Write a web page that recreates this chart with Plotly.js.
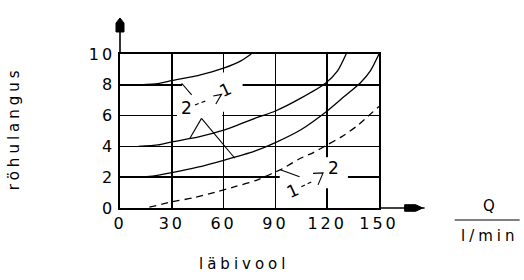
<!DOCTYPE html>
<html><head><meta charset="utf-8">
<script src="https://cdn.plot.ly/plotly-3.0.1.min.js"></script>
<style>
html,body{margin:0;padding:0;background:#fff;}
#chart{width:524px;height:280px;}
.xtick text,.ytick text{letter-spacing:3px;}
.annotation-text{letter-spacing:4px;}
</style></head><body><div id="chart"></div>
<script>
// x-axis ticks (läbivool, l/min) and y-axis ticks (röhulangus)
const xTicks = [0, 30, 60, 90, 120, 150];
const xTickText = ['0', '30', '60', '90', '120', '150'];
const yTicks = [0, 2, 4, 6, 8, 10];
const yTickText = ['0', '2', '4', '6', '8', '10'];

// upper curve (starts at 8)
const flowA = [11.6, 22, 30, 45, 60, 70, 76];
const dropA = [8.0, 8.08, 8.27, 8.6, 9.08, 9.55, 10.0];
// middle curve (starts at 4)
const flowB = [10.6, 22, 30, 45, 60, 80, 90, 105, 119, 126, 131];
const dropB = [4.0, 4.1, 4.3, 4.6, 5.05, 5.9, 6.3, 7.15, 8.1, 8.9, 10.0];
// lower curve (starts at 2)
const flowC = [4.8, 17, 30, 45, 60, 78, 90, 105, 120, 130, 139, 145, 150];
const dropC = [2.0, 2.05, 2.3, 2.65, 3.1, 3.7, 4.25, 5.1, 6.3, 7.25, 8.1, 8.9, 10.0];
// dashed curve (starts at 0)
const flowD = [17, 30, 42, 56, 67, 79, 94, 104, 112, 120, 128, 137, 150];
const dropD = [0.05, 0.4, 0.65, 1.05, 1.4, 1.8, 2.55, 3.2, 3.6, 4.1, 4.6, 5.3, 6.6];

const F = 'DejaVu Sans, Verdana, sans-serif';
const solid = {color: '#000', width: 1.3, shape: 'spline', smoothing: 0.6};

const traces = [
  {x: flowA, y: dropA, mode: 'lines', line: solid, hoverinfo: 'skip'},
  {x: flowB, y: dropB, mode: 'lines', line: solid, hoverinfo: 'skip'},
  {x: flowC, y: dropC, mode: 'lines', line: solid, hoverinfo: 'skip'},
  {x: flowD, y: dropD, mode: 'lines', line: Object.assign({}, solid, {dash: '7px,5px'}), hoverinfo: 'skip'}
];

function gap(x0, x1, y0, y1) {
  return {type: 'rect', xref: 'x', yref: 'y', x0: x0, x1: x1, y0: y0, y1: y1,
          fillcolor: '#fff', line: {width: 0}, layer: 'between'};
}
function seg(x0, y0, x1, y1, dash) {
  return {type: 'line', xref: 'x', yref: 'y', x0: x0, y0: y0, x1: x1, y1: y1,
          line: {color: '#000', width: 1.1, dash: dash || 'solid'}};
}
function poly(d, xref, yref) {
  return {type: 'path', xref: xref, yref: yref, path: d, fillcolor: '#000', line: {color: '#000', width: 1}};
}

const shapes = [
  gap(36, 71, 7.9, 8.1),
  gap(33, 59.2, 5.9, 6.1),
  gap(59.1, 60.9, 6.25, 8.8),
  gap(92.5, 132, 1.9, 2.1),
  gap(119.1, 120.9, 1.28, 3.3),
  // "2 -> 1" marks
  seg(35.7, 8.1, 41.5, 7.34),
  seg(40.5, 4.53, 47.2, 5.82),
  seg(47.2, 5.82, 66.5, 3.23),
  seg(43.4, 6.69, 50.6, 6.99, '4px,3px'),
  {type: 'path', xref: 'x', yref: 'y', path: 'M54,7.27 L58.8,7.38 L55.5,6.75', line: {color: '#000', width: 1.1}},
  // "1 -> 2" marks
  seg(92.5, 2.5, 104, 2.03),
  seg(105, 1.38, 111, 1.7, '4px,3px'),
  {type: 'path', xref: 'x', yref: 'y', path: 'M111.8,2.25 L117.6,2.28 L114.7,1.5', line: {color: '#000', width: 1.1}},
  // axis arrows
  {type: 'line', xref: 'paper', yref: 'paper', x0: 0, y0: 1, x1: 0, y1: 1.2, line: {color: '#000', width: 1.6}},
  poly('M-0.0154,1.143 L-0.0154,1.201 L0,1.234 L0.0154,1.201 L0.0154,1.143 Z', 'paper', 'paper'),
  {type: 'line', xref: 'paper', yref: 'paper', x0: 1, y0: 0, x1: 1.176, y1: 0, line: {color: '#000', width: 1.6}},
  poly('M1.099,-0.0214 L1.1416,-0.0214 L1.1685,0 L1.1416,0.0214 L1.099,0.0214 Z', 'paper', 'paper'),
  // fraction bar of Q / l/min
  {type: 'line', xref: 'paper', yref: 'paper', x0: 1.292, y0: -0.078, x1: 1.543, y1: -0.078, line: {color: '#000', width: 1}}
];

const tfont = {family: F, size: 15, color: '#000'};
const hfont = {family: F, size: 17, color: '#000'};
const annotations = [
  {xref: 'paper', yref: 'paper', x: -0.409, y: 0.519, text: 'röhulangus', textangle: -90, showarrow: false, font: tfont, xanchor: 'center', yanchor: 'middle'},
  {xref: 'paper', yref: 'paper', x: 0.478, y: -0.364, text: 'läbivool', showarrow: false, font: tfont, xanchor: 'center', yanchor: 'middle'},
  {xref: 'paper', yref: 'paper', x: 1.431, y: 0.013, text: 'Q', showarrow: false, font: tfont, xanchor: 'center', yanchor: 'middle'},
  {xref: 'paper', yref: 'paper', x: 1.427, y: -0.182, text: 'l/min', showarrow: false, font: tfont, xanchor: 'center', yanchor: 'middle'},
  {xref: 'x', yref: 'y', x: 39.5, y: 6.47, text: '2', showarrow: false, font: hfont},
  {xref: 'x', yref: 'y', x: 62.2, y: 7.71, text: '1', textangle: -25, showarrow: false, font: hfont},
  {xref: 'x', yref: 'y', x: 101, y: 1.17, text: '1', textangle: -25, showarrow: false, font: hfont},
  {xref: 'x', yref: 'y', x: 124.8, y: 2.63, text: '2', showarrow: false, font: hfont}
];

const axisCommon = {
  showgrid: true, gridcolor: '#000', gridwidth: 1.6,
  showline: true, linecolor: '#000', linewidth: 1.6, mirror: true,
  zeroline: false, ticks: '', fixedrange: true,
  tickfont: {family: F, size: 16, color: '#000'}
};

const layout = {
  width: 524, height: 280,
  margin: {l: 120, r: 145, t: 54, b: 72, pad: 0},
  paper_bgcolor: '#fff', plot_bgcolor: '#fff',
  showlegend: false,
  xaxis: Object.assign({}, axisCommon, {range: [0, 150], tickvals: xTicks, ticktext: xTickText, ticklabelstandoff: 0}),
  yaxis: Object.assign({}, axisCommon, {range: [0, 10], tickvals: yTicks, ticktext: yTickText, ticklabelstandoff: 0}),
  shapes: shapes,
  annotations: annotations
};

Plotly.newPlot('chart', traces, layout, {staticPlot: true, displayModeBar: false});
</script></body></html>
